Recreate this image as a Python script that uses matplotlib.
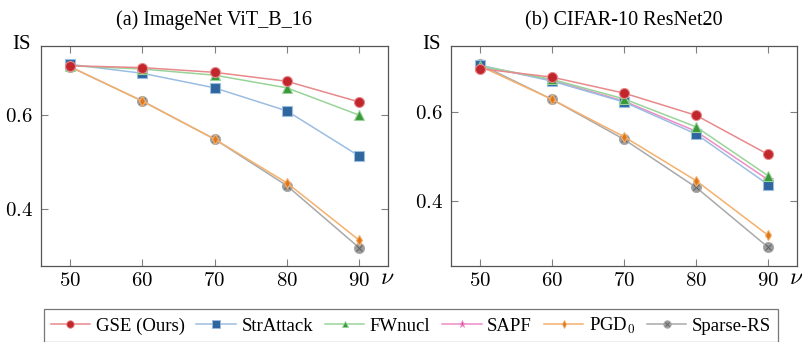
import matplotlib
matplotlib.use("Agg")
import matplotlib.pyplot as plt
import numpy as np
from matplotlib.lines import Line2D
from matplotlib.legend_handler import HandlerTuple

plt.rcParams['font.family'] = ['Liberation Serif', 'DejaVu Serif']
plt.rcParams['mathtext.fontset'] = 'cm'

nu = [50, 60, 70, 80, 90]

# (a) ImageNet ViT_B_16
vit_gse = [0.705, 0.701, 0.691, 0.672, 0.628]
vit_str = [0.708, 0.689, 0.658, 0.609, 0.513]
vit_fw = [0.705, 0.698, 0.685, 0.658, 0.600]
vit_pgd = [0.703, 0.630, 0.549, 0.456, 0.334]
vit_srs = [0.703, 0.630, 0.549, 0.450, 0.318]

# (b) CIFAR-10 ResNet20
cif_gse = [0.697, 0.678, 0.642, 0.592, 0.504]
cif_str = [0.705, 0.669, 0.622, 0.550, 0.436]
cif_fw = [0.703, 0.673, 0.629, 0.566, 0.456]
cif_sapf = [0.703, 0.671, 0.624, 0.556, 0.447]
cif_pgd = [0.703, 0.628, 0.544, 0.445, 0.322]
cif_srs = [0.707, 0.628, 0.538, 0.430, 0.295]

titles = ["(a) ImageNet ViT_B_16", "(b) CIFAR-10 ResNet20"]
yticks = [0.4, 0.6]
ytick_labels = ["0.4", "0.6"]
labels = ["GSE (Ours)", "StrAttack", "FWnucl", "SAPF", "PGD$_0$", "Sparse-RS"]

styles = {
    "GSE (Ours)": dict(line="#e8898b", face="#c0262c", marker="o", ms=7.2),
    "StrAttack": dict(line="#9bbde2", face="#2f669e", marker="s", ms=7),
    "FWnucl": dict(line="#98d498", face="#3a983a", marker="^", ms=6.5),
    "SAPF": dict(line="#ee8cc6", face="#d83c98", marker="*", ms=7),
    "PGD$_0$": dict(line="#f5b06c", face="#e0761a", marker="d", ms=5.5),
    "Sparse-RS": dict(line="#a9a9a9", face="#9a9a9a", marker="o", ms=7.2),
}

data = [
    {"GSE (Ours)": vit_gse, "StrAttack": vit_str, "FWnucl": vit_fw,
     "PGD$_0$": vit_pgd, "Sparse-RS": vit_srs},
    {"GSE (Ours)": cif_gse, "StrAttack": cif_str, "FWnucl": cif_fw,
     "SAPF": cif_sapf, "PGD$_0$": cif_pgd, "Sparse-RS": cif_srs},
]
ylims = [(0.279, 0.747), (0.253, 0.748)]

W, H = 803, 342
fig = plt.figure(figsize=(W / 100, H / 100), dpi=100)
rects = [(41, 46, 388, 266), (451, 46, 797, 266)]

order = ["Sparse-RS", "PGD$_0$", "SAPF", "StrAttack", "FWnucl", "GSE (Ours)"]

for i, (x0, y0, x1, y1) in enumerate(rects):
    ax = fig.add_axes([x0 / W, 1 - y1 / H, (x1 - x0) / W, (y1 - y0) / H])
    for k, name in enumerate(order):
        if name not in data[i]:
            continue
        st = styles[name]
        ax.plot(nu, data[i][name], color=st["line"], lw=1.1, marker=st["marker"],
                ms=st["ms"], mfc=st["face"], mec=st["line"], mew=0.8, zorder=2 + k)
        if name == "Sparse-RS":
            ax.plot(nu, data[i][name], ls="none", marker="x", ms=4.2, mec="#606060",
                    mew=0.7, zorder=2 + k)
    ax.set_xlim(46, 94)
    ax.set_ylim(*ylims[i])
    ax.set_xticks(nu)
    ax.set_xticklabels([f"${v}$" for v in nu])
    ax.set_yticks(yticks)
    ax.set_yticklabels([f"${t}$" for t in ytick_labels])
    ax.tick_params(direction="in", length=5, width=0.8, color="#808080",
                   top=True, right=True, labelsize=15, pad=4)
    ax.tick_params(axis="y", pad=6)
    for s in ax.spines.values():
        s.set_color("#555555")
        s.set_linewidth(0.9)
    ax.set_title(titles[i], fontsize=14.5, pad=15)
    ax.text(-0.055, 1.005, "IS", transform=ax.transAxes, fontsize=15,
            ha="center", va="center")
    ax.text(0.997, -0.055, r"$\nu$", transform=ax.transAxes, fontsize=17,
            ha="center", va="center")

handles = []
for name in labels:
    st = styles[name]
    h = Line2D([], [], color=st["line"], lw=1.1, marker=st["marker"],
               ms=st["ms"] * 0.75, mfc=st["face"], mec=st["line"], mew=0.6)
    if name == "Sparse-RS":
        h2 = Line2D([], [], ls="none", marker="x", ms=3, mec="#606060", mew=0.6)
        h = (h, h2)
    handles.append(h)

leg = fig.legend(handles, labels, loc="upper left",
                 bbox_to_anchor=(44 / W, 1 - 309 / H), ncol=6, fontsize=13.5,
                 frameon=True, fancybox=False, edgecolor="#555555",
                 handlelength=2.1, handletextpad=0.3, columnspacing=0.63,
                 borderpad=0.35, borderaxespad=0,
                 handler_map={tuple: HandlerTuple(ndivide=1, pad=0)})
leg.get_frame().set_linewidth(0.9)

fig.savefig("out.png", dpi=100)
